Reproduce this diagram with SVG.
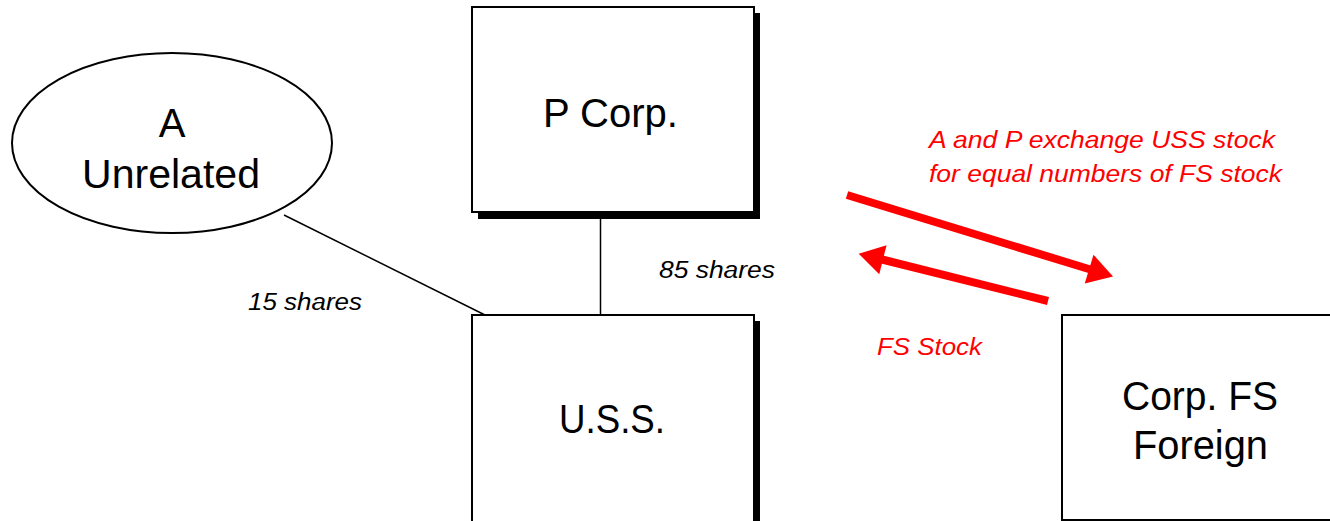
<svg xmlns="http://www.w3.org/2000/svg" width="1330" height="521" viewBox="0 0 1330 521">
  <style>
    .box { fill: #ffffff; stroke: #000000; stroke-width: 2; }
    .shadow { fill: #000000; }
    .big { font-family: "Liberation Sans", Arial, sans-serif; font-size: 40px; fill: #000000; text-anchor: middle; }
    .lbl { font-family: "Liberation Sans", Arial, sans-serif; font-size: 23px; font-style: italic; fill: #000000; }
    .red { font-family: "Liberation Sans", Arial, sans-serif; font-size: 24px; font-style: italic; fill: #ff0000; }
    .conn { stroke: #000000; stroke-width: 1.5; fill: none; }
    .redarrow { stroke: #ff0000; stroke-width: 8; fill: none; }
  </style>
  <defs>
    <marker id="redhead" markerUnits="userSpaceOnUse" markerWidth="28" markerHeight="30" refX="3" refY="15" orient="auto" overflow="visible">
      <path d="M0,0 L25,15 L0,30 Z" fill="#ff0000"/>
    </marker>
  </defs>
  <rect width="1330" height="521" fill="#ffffff"/>

  <g id="connectors">
    <line class="conn" x1="600.5" y1="212" x2="600.5" y2="315"/>
    <line class="conn" x1="284" y1="215" x2="485" y2="315"/>
    <line class="redarrow" x1="847" y1="195" x2="1092" y2="270" marker-end="url(#redhead)"/>
    <line class="redarrow" x1="1048" y1="301" x2="880" y2="259" marker-end="url(#redhead)"/>
  </g>

  <g id="node-a">
    <ellipse class="box" cx="172" cy="143" rx="160" ry="90"/>
    <text class="big" x="172" y="137">A</text>
    <text class="big" x="171" y="188" textLength="178" lengthAdjust="spacingAndGlyphs">Unrelated</text>
  </g>

  <g id="node-p">
    <rect class="shadow" x="478" y="13" width="282" height="206"/>
    <rect class="box" x="472" y="7" width="282" height="205"/>
    <text class="big" x="610.5" y="127" textLength="135" lengthAdjust="spacingAndGlyphs">P Corp.</text>
  </g>

  <g id="node-uss">
    <rect class="shadow" x="478" y="321" width="282" height="210"/>
    <rect class="box" x="472" y="315" width="282" height="215"/>
    <text class="big" x="612" y="433" textLength="106" lengthAdjust="spacingAndGlyphs">U.S.S.</text>
  </g>

  <g id="node-fs">
    <rect class="box" x="1062" y="315" width="280" height="205"/>
    <text class="big" x="1200" y="410" textLength="156" lengthAdjust="spacingAndGlyphs">Corp. FS</text>
    <text class="big" x="1200.5" y="459" textLength="135" lengthAdjust="spacingAndGlyphs">Foreign</text>
  </g>

  <g id="labels">
    <text class="lbl" x="248" y="310" textLength="114" lengthAdjust="spacingAndGlyphs">15 shares</text>
    <text class="lbl" x="659" y="278" textLength="116" lengthAdjust="spacingAndGlyphs">85 shares</text>
    <text class="red" x="877" y="355" textLength="105" lengthAdjust="spacingAndGlyphs">FS Stock</text>
    <text class="red" x="929" y="148" textLength="346" lengthAdjust="spacingAndGlyphs">A and P exchange USS stock</text>
    <text class="red" x="929" y="182" textLength="353" lengthAdjust="spacingAndGlyphs">for equal numbers of FS stock</text>
  </g>
</svg>
